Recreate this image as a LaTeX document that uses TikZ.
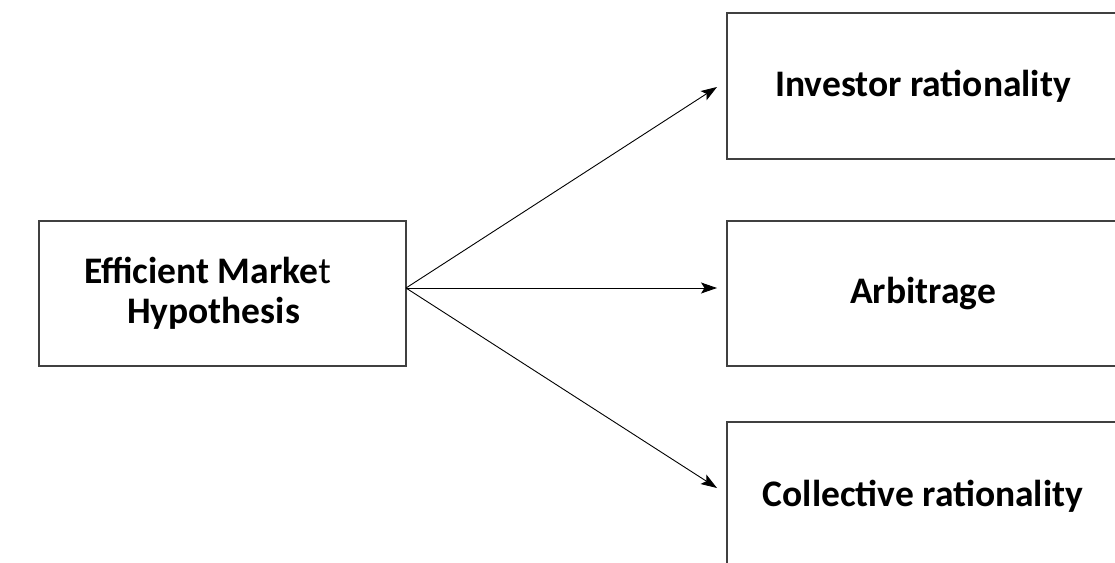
\documentclass[tikz,border=0pt]{standalone}
\usepackage{fontspec}
\setmainfont{Carlito}
\usetikzlibrary{arrows.meta}
\begin{document}
\begin{tikzpicture}[x=1pt,y=-1pt,
  box/.style={draw=black!75,line width=1.4pt,inner sep=0pt,align=center,font=\bfseries\fontsize{37.5}{40}\selectfont},
  label/.style={inner sep=0pt,align=center,font=\bfseries\fontsize{37.5}{40}\selectfont},
  conn/.style={line width=0.9pt,-{Stealth[length=16pt,width=11pt,inset=3.5pt]}}]
\useasboundingbox (0,0) rectangle (1115,562);
\clip (0,0) rectangle (1115,562);
\node[box,minimum width=367pt,minimum height=145pt] (emh) at (222.5,293.5) {};
\node[label] (emhtext) at (213.5,293) {Efficient Marke\textmd{t}\hspace*{12pt}\\Hypothesis};
\node[box,minimum width=392pt,minimum height=146pt] (inv) at (923,86) {Investor rationality};
\node[box,minimum width=392pt,minimum height=145pt] (arb) at (923,293.5) {Arbitrage};
\node[box,minimum width=392pt,minimum height=148pt] (col) at (923,496) {Collective rationality};
\coordinate (src) at (406,288);
\coordinate (tinv) at (717,87);
\coordinate (tarb) at (717,288);
\coordinate (tcol) at (717,488);
\draw[conn] (src) -- (tinv);
\draw[conn] (src) -- (tarb);
\draw[conn] (src) -- (tcol);
\end{tikzpicture}
\end{document}
